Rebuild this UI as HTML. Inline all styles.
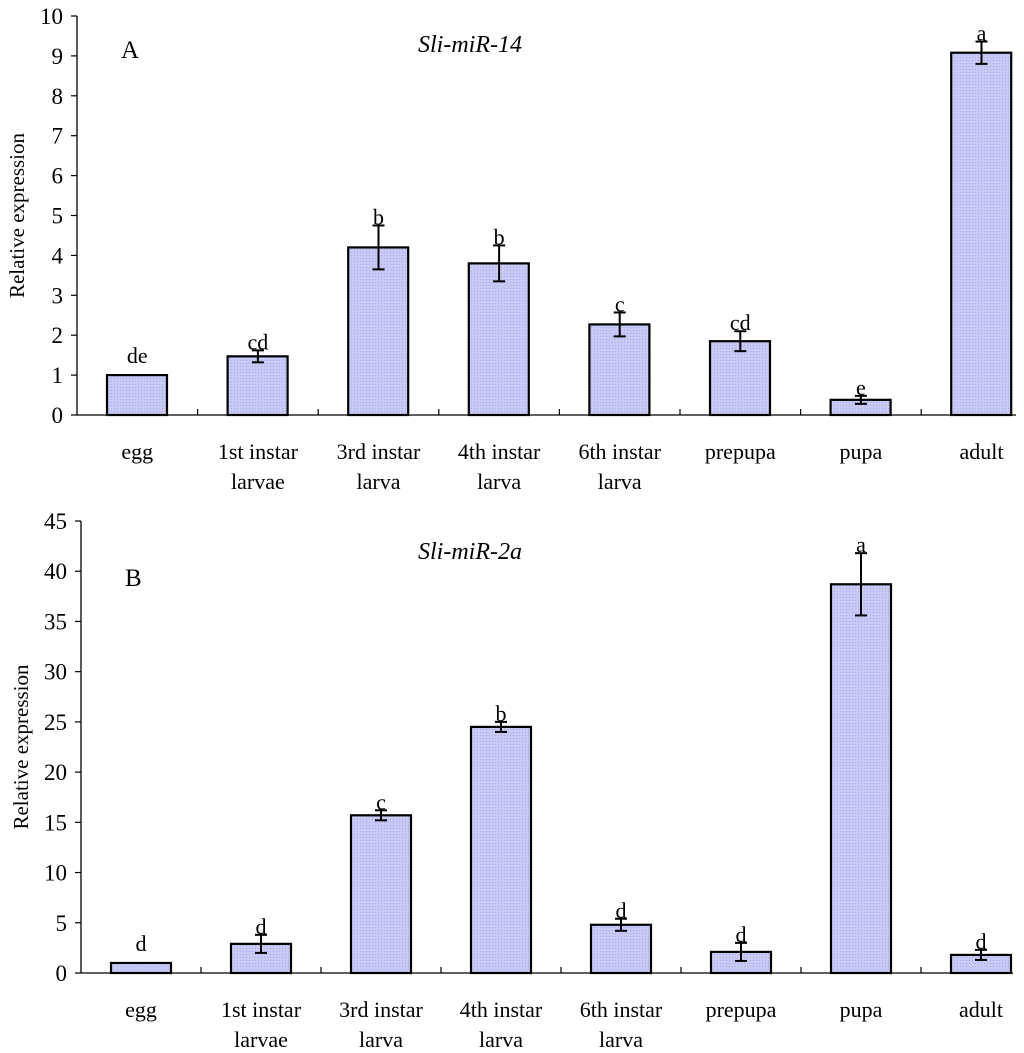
<!DOCTYPE html>
<html><head><meta charset="utf-8"><style>
html,body{margin:0;padding:0;background:#fff;}
svg{display:block;font-family:"Liberation Serif",serif;}
</style></head><body>
<svg id="chart" width="1024" height="1053" viewBox="0 0 1024 1053" xmlns="http://www.w3.org/2000/svg">
<defs>
<pattern id="hatch" width="3" height="3" patternUnits="userSpaceOnUse">
<rect width="3" height="3" fill="#c8caf5"/>
<rect width="1" height="1" fill="#a9abe6"/>
</pattern>
</defs>
</svg>
<script>
const categories = ["egg","1st instar|larvae","3rd instar|larva","4th instar|larva","6th instar|larva","prepupa","pupa","adult"];
const valuesA = [1, 1.47, 4.2, 3.8, 2.27, 1.85, 0.38, 9.08];
const errorsA = [0, 0.15, 0.55, 0.45, 0.3, 0.25, 0.1, 0.28];
const lettersA = ["de","cd","b","b","c","cd","e","a"];
const ticksA = [0,1,2,3,4,5,6,7,8,9,10];
const valuesB = [1, 2.9, 15.7, 24.5, 4.8, 2.1, 38.7, 1.8];
const errorsB = [0, 0.9, 0.5, 0.5, 0.6, 0.9, 3.1, 0.5];
const lettersB = ["d","d","c","b","d","d","a","d"];
const ticksB = [0,5,10,15,20,25,30,35,40,45];

const NS = "http://www.w3.org/2000/svg";
const svg = document.getElementById("chart");
function mk(tag, attrs, parent){
  const e = document.createElementNS(NS, tag);
  for (const k in attrs) e.setAttribute(k, attrs[k]);
  (parent||svg).appendChild(e);
  return e;
}
function panel(p){
  const g = mk("g", {});
  
  
  const y = v => p.y0 - v / p.max * (p.y0 - p.yTop);
  const xb = i => p.x0 + i * p.step;
  const ya = mk("line", {x1:p.x0, y1:p.yTop, x2:p.x0, y2:p.y0, stroke:"#000","stroke-width":1.3}, g);
  
  
  const xa = mk("line", {x1:p.x0, y1:p.y0, x2:p.xEnd, y2:p.y0, stroke:"#000","stroke-width":1.3}, g);
  
  
  p.ticks.forEach(t => {
    mk("line", {x1:p.x0-6, y1:y(t), x2:p.x0, y2:y(t), stroke:"#000","stroke-width":1.2}, g);
    const tl = mk("text", {x:p.x0-14, y:y(t)+8, "text-anchor":"end","font-size":23}, g);
    tl.textContent = t;
    
    
  });
  for (let i = 1; i < categories.length; i++) {
    mk("line", {x1:xb(i), y1:p.y0-6, x2:xb(i), y2:p.y0, stroke:"#000","stroke-width":1.2}, g);
  }
  categories.forEach((c, i) => {
    const cx = xb(i) + p.step/2;
    const v = p.values[i], e = p.errors[i];
    const r = mk("rect", {x:xb(i)+30, y:y(v), width:60, height:p.y0-y(v), fill:"url(#hatch)", stroke:"#000","stroke-width":2.2}, g);
    
    
    if (e > 0) {
      const eg = mk("g", {stroke:"#000","stroke-width":2}, g);
      
      
      mk("line", {x1:cx, y1:y(v+e), x2:cx, y2:y(v-e)}, eg);
      mk("line", {x1:cx-6, y1:y(v+e), x2:cx+6, y2:y(v+e)}, eg);
      mk("line", {x1:cx-6, y1:y(v-e), x2:cx+6, y2:y(v-e)}, eg);
    }
    const ly = e > 0 ? y(v+e) - 1 : y(v) - 12;
    const lt = mk("text", {x:cx, y:ly, "text-anchor":"middle","font-size":22}, g);
    lt.textContent = p.letters[i];
    
    
    c.split('|').forEach((s, k) => {
      const xt = mk("text", {x:cx, y:p.y0 + 44 + k*30, "text-anchor":"middle","font-size":22}, g);
      xt.textContent = s;
      
      
    });
  });
  const yt = mk("text", {x:0, y:0, transform:`translate(${p.x0-53},${(p.y0+p.yTop)/2}) rotate(-90)`, "text-anchor":"middle","font-size":21}, g);
  yt.textContent = "Relative expression";
  
  
  const pl = mk("text", {x:p.x0+44, y:p.labelY, "font-size":25}, g);
  pl.textContent = p.label;
  
  
  const tt = mk("text", {x:470, y:p.titleY, "text-anchor":"middle","font-size":24,"font-style":"italic"}, g);
  tt.textContent = p.title;
  
  
}
panel({id:"a", x0:77, step:120.6, xEnd:1016, y0:415, yTop:16, max:10, ticks:ticksA, values:valuesA, errors:errorsA, letters:lettersA, label:"A", labelY:58, title:"Sli-miR-14", titleY:52});
panel({id:"b", x0:81, step:120, xEnd:1013, y0:973, yTop:521, max:45, ticks:ticksB, values:valuesB, errors:errorsB, letters:lettersB, label:"B", labelY:586, title:"Sli-miR-2a", titleY:559});
</script>
</body></html>
